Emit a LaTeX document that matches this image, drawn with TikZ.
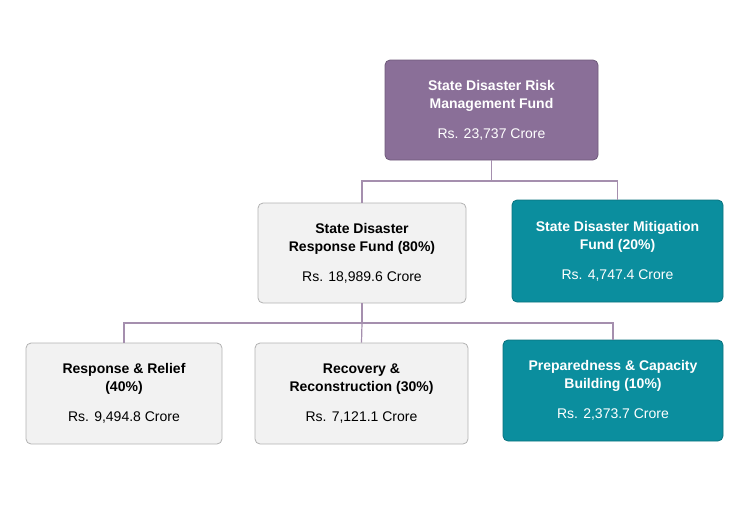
\documentclass[tikz,border=0pt]{standalone}
\usepackage{fontspec}
\setmainfont{Liberation Sans}
\usetikzlibrary{positioning}
\definecolor{fundpurple}{HTML}{8A6F98}
\definecolor{fundteal}{HTML}{0B8E9E}
\definecolor{linkcol}{HTML}{A58FAE}
\tikzset{
  box/.style={draw, rounded corners=5pt, line width=0.8pt, align=center,
    inner sep=0pt, font=\fontsize{14}{18}\selectfont},
  greybox/.style={box, fill=black!5, draw=black!30, text=black},
  purplebox/.style={box, fill=fundpurple, draw=fundpurple!80!black, text=white},
  tealbox/.style={box, fill=fundteal, draw=fundteal!80!black, text=white},
  link/.style={draw=linkcol, line width=1.2pt}
}
\begin{document}
\begin{tikzpicture}[x=1pt,y=-1pt]
\useasboundingbox (0,0) rectangle (730,504);
% boxes
\node[purplebox, minimum width=213pt, minimum height=100pt] (srmf) at (491.5,110)
  {\textbf{State Disaster Risk}\\\textbf{Management Fund}\\[12pt]Rs. 23,737 Crore};
\node[greybox, minimum width=208pt, minimum height=100pt] (sdrf) at (362,253)
  {\textbf{State Disaster}\\\textbf{Response Fund (80\%)}\\[12pt]Rs. 18,989.6 Crore};
\node[tealbox, minimum width=211pt, minimum height=102pt] (sdmf) at (617.5,251)
  {\textbf{State Disaster Mitigation}\\\textbf{Fund (20\%)}\\[12pt]Rs. 4,747.4 Crore};
\node[greybox, minimum width=196pt, minimum height=101pt] (relief) at (124,393.5)
  {\textbf{Response \& Relief}\\\textbf{(40\%)}\\[12pt]Rs. 9,494.8 Crore};
\node[greybox, minimum width=213pt, minimum height=101pt] (recovery) at (361.5,393.5)
  {\textbf{Recovery \&}\\\textbf{Reconstruction (30\%)}\\[12pt]Rs. 7,121.1 Crore};
\node[tealbox, minimum width=220pt, minimum height=101pt] (prep) at (613,390.5)
  {\textbf{Preparedness \& Capacity}\\\textbf{Building (10\%)}\\[12pt]Rs. 2,373.7 Crore};
% connectors
\coordinate (topbus) at (491.5,181);
\coordinate (lowbus) at (362,323);
\draw[link] (srmf.south) -- (topbus);
\draw[link] (sdrf.north) |- (topbus) -| (sdmf.north);
\draw[link] (sdrf.south) -- (lowbus);
\draw[link] (relief.north) |- (lowbus) -| (prep.north);
\draw[link] (lowbus) -- (recovery.north);
\end{tikzpicture}
\end{document}
